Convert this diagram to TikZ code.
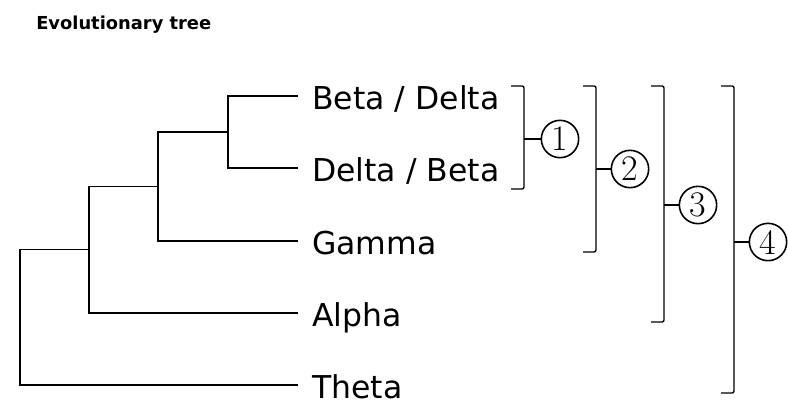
\documentclass[tikz,border=0pt]{standalone}
\usepackage{fontspec}
\newfontfamily\labelfont{DejaVu Sans}
\usetikzlibrary{positioning}
\tikzset{x=0.75pt,y=-0.75pt,
  branch/.style={line width=1.4pt,line cap=rect},
  leaf/.style={anchor=west,inner xsep=11.25pt,inner ysep=0pt,text height=20.25pt,text depth=0pt,font=\labelfont\fontsize{23.6}{24}\selectfont},
  clade/.style={line width=1pt,rounded corners=1.5pt},
  cladenum/.style={draw,circle,line width=1.2pt,inner sep=0pt,minimum size=28pt,font=\fontsize{27}{27}\selectfont}}

\begin{document}
\begin{tikzpicture}
    \useasboundingbox (0,0) rectangle (788,412);
    \node[anchor=base west,inner sep=0pt,font=\labelfont\bfseries\fontsize{13.4}{14}\selectfont] (title) at (36,29) {Evolutionary tree};
    % leaves
    \node[leaf] (beta) at (297,96) {Beta / Delta};
    \node[leaf] (delta) at (297,168) {Delta / Beta};
    \node[leaf] (gamma) at (297,241) {Gamma};
    \node[leaf] (alpha) at (297,313) {Alpha};
    \node[leaf] (theta) at (297,385) {Theta};
    % inner nodes
    \coordinate (n1) at (228,132);
    \coordinate (n2) at (158,186.5);
    \coordinate (n3) at (89,249.5);
    \coordinate (n4) at (20,317);
    \draw[branch] (n1) |- (beta.west);
    \draw[branch] (n1) |- (delta.west);
    \draw[branch] (n2) |- (n1);
    \draw[branch] (n2) |- (gamma.west);
    \draw[branch] (n3) |- (n2);
    \draw[branch] (n3) |- (alpha.west);
    \draw[branch] (n4) |- (n3);
    \draw[branch] (n4) |- (theta.west);
    % brackets
    \foreach \n/\x/\b/\m/\cx in {1/524/189/139/560,2/596/252/169/630,3/664/322/205/698,4/734/393/242/768} {
      \draw[clade] (\x-13,86) -- (\x,86) -- (\x,\b) -- (\x-13,\b);
      \node[cladenum] (c\n) at (\cx,\m) {\n};
      \coordinate (m\n) at (\x,\m);
      \draw[clade] (m\n) -- (c\n.west);
    }
  \end{tikzpicture}
\end{document}
